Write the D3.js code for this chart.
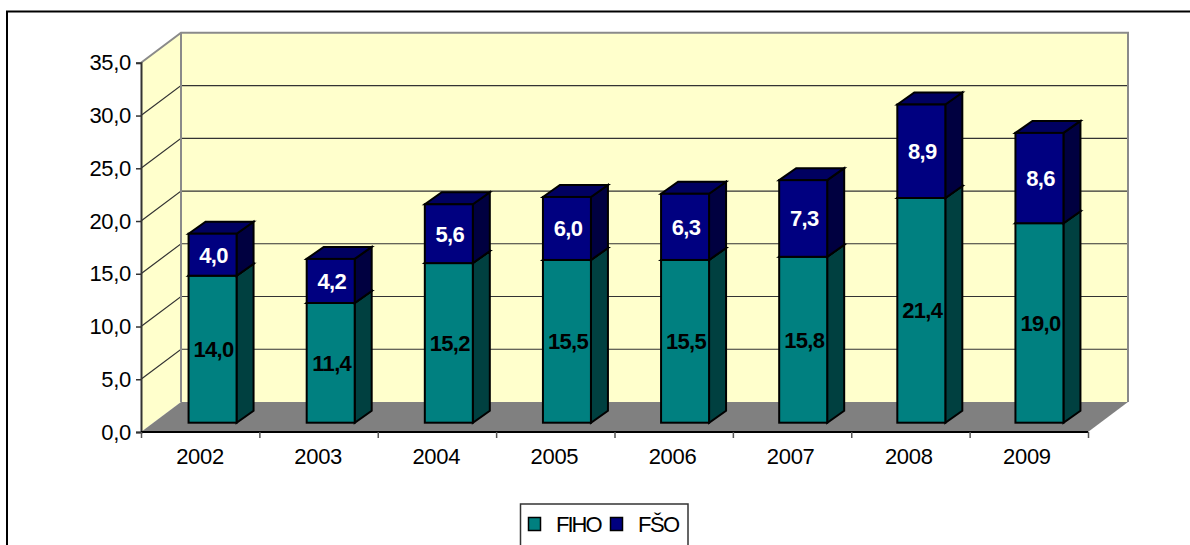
<!DOCTYPE html>
<html>
<head>
<meta charset="utf-8">
<script src="https://cdnjs.cloudflare.com/ajax/libs/d3/7.8.5/d3.min.js"></script>
<style>
html,body{margin:0;padding:0;background:#fff;overflow:hidden}
svg{display:block}
text{font-family:"Liberation Sans",Arial,sans-serif}
</style>
</head>
<body>
<div id="chart"></div>
<script>
const years = ["2002","2003","2004","2005","2006","2007","2008","2009"];
const fiho = [14.0,11.4,15.2,15.5,15.5,15.8,21.4,19.0];
const fso = [4.0,4.2,5.6,6.0,6.3,7.3,8.9,8.6];
const seriesNames = ["FIHO","FŠO"];
const yTicks = [0,5,10,15,20,25,30,35];

const W = 1190, H = 545;
const fmt = d => d.toFixed(1).replace(".", ",");
const svg = d3.select("#chart").append("svg").attr("width", W).attr("height", H);

// chart frame (right and bottom run off the picture)
svg.append("path").attr("d", `M7,${H}V11.5H${W}`).attr("fill", "none").attr("stroke", "#000").attr("stroke-width", 2);

// plot geometry
const left = 141, right = 1088, depthX = 40, depthY = -30;
const y = d3.scaleLinear().domain([0, 35]).range([432, 62.8]);
const x = d3.scaleBand().domain(years).range([left, right - 2]).padding(0);
const bound = d3.scaleLinear().domain([0, years.length]).range([left, right]);
const y0 = y(0), yT = y(35);
const poly = pts => pts.map(p => p.join(",")).join(" ");

// back and left walls
svg.append("polygon").attr("fill", "#FFFFCC")
  .attr("points", poly([[left,y0],[left,yT],[left+depthX,yT+depthY],[right+depthX,yT+depthY],[right+depthX,y0+depthY],[left+depthX,y0+depthY]]));

// gridlines
const grid = svg.append("g");
yTicks.slice(1, -1).forEach(t => {
  grid.append("path").attr("fill", "none").attr("stroke", "#333").attr("stroke-width", 1.2)
    .attr("d", `M${left},${y(t)}L${left+depthX},${y(t)+depthY}H${right+depthX}`);
});

// wall edges
svg.append("path").attr("fill", "none").attr("stroke", "#8a8a8a").attr("stroke-width", 2)
  .attr("d", `M${left},${yT}L${left+depthX},${yT+depthY}H${right+depthX}V${y0+depthY}M${left+depthX},${yT+depthY}V${y0+depthY}`);

// floor
svg.append("polygon").attr("fill", "#808080")
  .attr("points", poly([[left,y0],[right,y0],[right+depthX,y0+depthY],[left+depthX,y0+depthY]]));

// bars
const stackRows = years.map((yr, i) => ({year: yr, FIHO: fiho[i], "FŠO": fso[i]}));
const stacked = d3.stack().keys(seriesNames)(stackRows);
const fronts = {FIHO:"#008080","FŠO":"#000080"};
const sides = {FIHO:"#004040","FŠO":"#000040"};
const tops = {FIHO:"#004040","FŠO":"#000060"};
const barBase = 422.7;
const barY = d3.scaleLinear().domain([0, 35]).range([barBase, barBase - 367.5]);
const barW = 48, barDX = 17, barDY = -12, barShift = 12.5;
const barX = yr => x(yr) + x.bandwidth()/2 - barW/2 + barShift;

const barsG = svg.append("g").attr("stroke", "#000").attr("stroke-width", 2).attr("stroke-linejoin", "miter");
stacked.forEach(s => {
  const g = barsG.append("g");
  s.forEach(d => {
    const yr = d.data.year, xa = barX(yr), xb = xa + barW, ya = barY(d[1]), yb = barY(d[0]);
    g.append("polygon").attr("fill", sides[s.key])
      .attr("points", poly([[xb,ya],[xb+barDX,ya+barDY],[xb+barDX,yb+barDY],[xb,yb]]));
    g.append("polygon").attr("fill", tops[s.key])
      .attr("points", poly([[xa,ya],[xa+barDX,ya+barDY],[xb+barDX,ya+barDY],[xb,ya]]));
    g.append("rect").attr("fill", fronts[s.key])
      .attr("x", xa).attr("y", ya).attr("width", barW).attr("height", yb - ya);
  });
});

// value labels
stacked.forEach(s => {
  svg.append("g").selectAll("text").data(s).join("text")
    .attr("x", d => barX(d.data.year) + barW/2 + 1)
    .attr("y", d => (barY(d[0]) + barY(d[1]))/2)
    .attr("dy", "0.36em").attr("text-anchor", "middle")
    .attr("font-size", 22).attr("letter-spacing", -0.7).attr("font-weight", "bold")
    .attr("fill", s.key === "FIHO" ? "#000" : "#fff")
    .text(d => fmt(d[1] - d[0]));
});

// y axis
const yAxis = svg.append("g").attr("transform", `translate(${left},0)`)
  .call(d3.axisLeft(y).tickValues(yTicks).tickFormat(fmt).tickSize(5).tickPadding(5));
yAxis.select(".domain").attr("stroke", "#333").attr("stroke-width", 2);
yAxis.selectAll("line").attr("stroke", "#333").attr("stroke-width", 1.5);
yAxis.selectAll("text").attr("font-size", 22).attr("letter-spacing", -0.3).attr("fill", "#000").attr("font-family", '"Liberation Sans",Arial,sans-serif');

// x axis: labels
const xAxis = svg.append("g").attr("transform", `translate(0,${y0})`)
  .call(d3.axisBottom(x).tickSize(0).tickPadding(16));
xAxis.select(".domain").remove();
xAxis.selectAll("text").attr("font-size", 22).attr("letter-spacing", -0.3).attr("fill", "#000").attr("font-family", '"Liberation Sans",Arial,sans-serif');

// x axis: boundary ticks and line
const xTicks = svg.append("g").attr("transform", `translate(0,${y0})`)
  .call(d3.axisBottom(bound).tickValues(d3.range(years.length + 1)).tickSize(6).tickFormat(""));
xTicks.select(".domain").attr("stroke", "#000").attr("stroke-width", 2).attr("d", `M${left},0H${right}`);
xTicks.selectAll("line").attr("stroke", "#555").attr("stroke-width", 1.5);

// legend (cut by the picture's lower edge)
const legend = svg.append("g");
legend.append("rect").attr("x", 520.5).attr("y", 504).attr("width", 167.5).attr("height", 60)
  .attr("fill", "#fff").attr("stroke", "#333").attr("stroke-width", 1.5);
const legendSwatchX = [528.5, 610.5], legendTextX = [556, 638];
seriesNames.forEach((n, i) => {
  legend.append("rect").attr("x", legendSwatchX[i]).attr("y", 517.5).attr("width", 12).attr("height", 13)
    .attr("fill", fronts[n]).attr("stroke", "#000").attr("stroke-width", 1.5);
  legend.append("text").attr("x", legendTextX[i]).attr("y", 532)
    .attr("font-size", 22).attr("letter-spacing", i === 0 ? -2 : -1.5).attr("fill", "#000").text(n);
});
</script>
</body>
</html>
